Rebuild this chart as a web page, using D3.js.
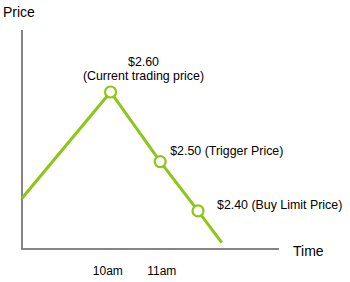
<!DOCTYPE html>
<html><head><meta charset="utf-8">
<script src="https://cdn.jsdelivr.net/npm/d3@7"></script>
<style>body{margin:0;background:#fff}svg{display:block;font-family:Arial,"Liberation Sans",sans-serif}</style>
</head><body><div id="chart"></div>
<script>
// time in hours (decimal), price level in relative chart units (illustrative)
const times = [8.42, 10.06, 10.98, 11.68, 12.12];
const levels = [23.2, 71.7, 39.9, 17.4, 2.9];
const markerIdx = [1, 2, 3];
const markerLabels = [["$2.60", "(Current trading price)"], ["$2.50 (Trigger Price)"], ["$2.40 (Buy Limit Price)"]];
const tickVals = [10, 11];
const tickLabels = ["10am", "11am"];

const W = 350, H = 282;
const svg = d3.select("#chart").append("svg").attr("width", W).attr("height", H);
const x = d3.scaleLinear().domain([8.42, 13.18]).range([22, 279]);
const y = d3.scaleLinear().domain([0, 100]).range([249, 30]);
const green = "#8cc617", grey = "#858585";

// axes
svg.append("line").attr("x1", x(8.42)).attr("x2", x(8.42)).attr("y1", y(100)).attr("y2", y(0))
  .attr("stroke", grey).attr("stroke-width", 2);
svg.append("line").attr("x1", x(8.42) - 1).attr("x2", x(13.18)).attr("y1", y(0)).attr("y2", y(0))
  .attr("stroke", grey).attr("stroke-width", 2);

const xAxis = d3.axisBottom(x).tickValues(tickVals).tickFormat((d, i) => tickLabels[i]).tickSize(0).tickPadding(0);
const gx = svg.append("g").attr("transform", "translate(0,266.5)").call(xAxis);
gx.select(".domain").remove();
gx.selectAll("text").attr("font-size", 12).attr("fill", "#000").attr("font-family", "Arial, 'Liberation Sans', sans-serif");

svg.append("text").attr("x", 3).attr("y", 17).attr("font-size", 14).text("Price");
svg.append("text").attr("x", 293).attr("y", 256).attr("font-size", 14).text("Time");

const line = d3.line().x((d, i) => x(times[i])).y(d => y(d));
svg.append("path").datum(levels).attr("d", line).attr("fill", "none")
  .attr("stroke", green).attr("stroke-width", 3).attr("stroke-linejoin", "miter");

svg.selectAll("circle.m").data(markerIdx).join("circle").attr("class", "m")
  .attr("cx", i => x(times[i])).attr("cy", i => y(levels[i])).attr("r", 5.5)
  .attr("fill", "#fff").attr("stroke", green).attr("stroke-width", 2.2);

// labels
svg.append("text").attr("x", 143.5).attr("y", 66).attr("text-anchor", "middle").attr("font-size", 12.4).text(markerLabels[0][0]);
svg.append("text").attr("x", 143.5).attr("y", 80).attr("text-anchor", "middle").attr("font-size", 12.4).text(markerLabels[0][1]);
svg.append("text").attr("x", x(times[2]) + 10).attr("y", 155).attr("font-size", 12.4).text(markerLabels[1][0]);
svg.append("text").attr("x", x(times[3]) + 19).attr("y", 208.5).attr("font-size", 12.4).text(markerLabels[2][0]);
</script></body></html>
